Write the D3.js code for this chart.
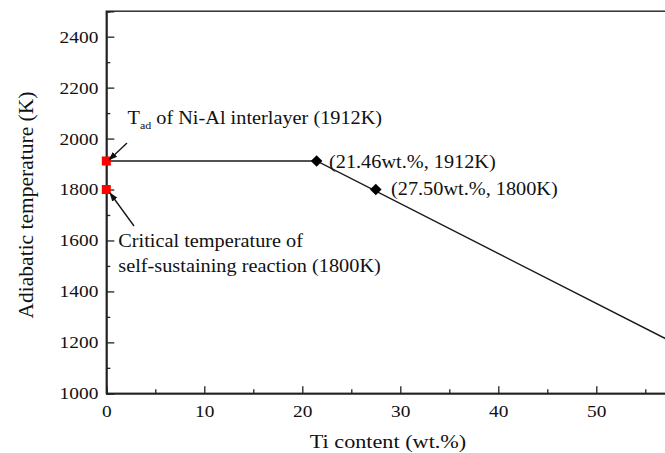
<!DOCTYPE html>
<html>
<head>
<meta charset="utf-8">
<script src="https://cdn.jsdelivr.net/npm/d3@7"></script>
<style>
  body { margin: 0; background: #fff; }
  svg { display: block; }
  svg text { font-family: "Liberation Serif", "Times New Roman", serif; }
</style>
</head>
<body>
<svg id="viz" width="665" height="453"></svg>
<script>
// Ti content (wt.%) vs adiabatic temperature (K)
const curve_x = [0, 21.46, 60];
const curve_t = [1912, 1912, 1157];

const key_x = [21.46, 27.50];
const key_t = [1912, 1800];
const key_labels = ["(21.46wt.%, 1912K)", "(27.50wt.%, 1800K)"];

const ref_t = [1912, 1800];   // red squares at x = 0

const x_major = [0, 10, 20, 30, 40, 50];
const x_minor = [5, 15, 25, 35, 45, 55];
const y_major = [1000, 1200, 1400, 1600, 1800, 2000, 2200, 2400];
const y_minor = [1100, 1300, 1500, 1700, 1900, 2100, 2300, 2500];

const stretch = 1.14;  // the source picture is a bit wide

let svg = d3.select("#viz");

let x = d3.scaleLinear().domain([0, 60]).range([106.3, 694.3]);
let y = d3.scaleLinear().domain([1000, 2500]).range([393.3, 11.2]);

function addText(px, py, str, size) {
    return svg.append("text")
        .attr("transform", "translate(" + px + "," + py + ") scale(" + stretch + ",1)")
        .attr("font-size", size)
        .attr("fill", "#111")
        .text(str);
}

// frame (top line, right side is cut off by the picture)
svg.append("rect")
    .attr("x", x(0)).attr("y", y(2500))
    .attr("width", x(60) - x(0)).attr("height", y(1000) - y(2500))
    .attr("fill", "none").attr("stroke", "#222").attr("stroke-width", 1.4);

// axes, ticks pointing inwards
svg.append("g").attr("transform", "translate(0," + y(1000) + ")")
    .call(d3.axisBottom(x).tickValues(x_major).tickSize(-7).tickPadding(12).tickFormat(d3.format("d")));
svg.append("g").attr("transform", "translate(0," + y(1000) + ")")
    .call(d3.axisBottom(x).tickValues(x_minor).tickSize(-4).tickFormat(""));

svg.append("g").attr("transform", "translate(" + x(0) + ",0)")
    .call(d3.axisLeft(y).tickValues(y_major).tickSize(-8).tickPadding(7).tickFormat(d3.format("d")));
svg.append("g").attr("transform", "translate(" + x(0) + ",0)")
    .call(d3.axisLeft(y).tickValues(y_minor).tickSize(-4).tickFormat(""));

svg.selectAll("g").attr("font-family", null).attr("font-size", null);
svg.selectAll(".domain").attr("stroke", "#222").attr("stroke-width", 1.5);
svg.selectAll(".tick line").attr("stroke", "#222").attr("stroke-width", 1.3);
svg.selectAll(".tick text")
    .attr("font-size", 17)
    .attr("fill", "#111")
    .attr("transform", "scale(" + stretch + ",1)");

// axis titles
addText(388, 448, "Ti content (wt.%)", 19.5).attr("text-anchor", "middle");
svg.append("text")
    .attr("transform", "translate(33,205) rotate(-90)")
    .attr("text-anchor", "middle")
    .attr("font-size", 21.5)
    .attr("fill", "#111")
    .text("Adiabatic temperature (K)");

// the curve
let line = d3.line().x(d => x(d[0])).y(d => y(d[1]));
svg.append("path")
    .datum(d3.zip(curve_x, curve_t))
    .attr("d", line)
    .attr("fill", "none")
    .attr("stroke", "#1a1a1a")
    .attr("stroke-width", 1.4);

// diamonds
svg.selectAll(".key_pt")
    .data(d3.zip(key_x, key_t))
    .join("path")
    .classed("key_pt", true)
    .attr("d", d3.symbol(d3.symbolDiamond2, 85))
    .attr("transform", d => "translate(" + x(d[0]) + "," + y(d[1]) + ")")
    .attr("fill", "#000");

// red squares
svg.selectAll(".ref_pt")
    .data(ref_t)
    .join("rect")
    .classed("ref_pt", true)
    .attr("x", d => x(0) - 4.5)
    .attr("y", d => y(d) - 4.5)
    .attr("width", 9)
    .attr("height", 9)
    .attr("fill", "#ff0000");

// point labels
addText(329, 168, key_labels[0], 17.8);
addText(391, 195, key_labels[1], 17.8);

// annotation: Tad of Ni-Al interlayer
let t1 = addText(127.5, 123.5, "T", 17.8);
t1.append("tspan").attr("font-size", 10.5).attr("dy", 5).text("ad");
t1.append("tspan").attr("dy", -5).text(" of Ni-Al interlayer (1912K)");

addText(118.3, 246.5, "Critical temperature of", 17.8);
addText(118.3, 271.5, "self-sustaining reaction (1800K)", 17.8);

// arrows
svg.append("defs").append("marker")
    .attr("id", "head")
    .attr("viewBox", "0 0 10 10")
    .attr("refX", 9).attr("refY", 5)
    .attr("markerWidth", 7).attr("markerHeight", 7)
    .attr("orient", "auto")
    .append("path").attr("d", "M0,1.5L10,5L0,8.5Z").attr("fill", "#111");

svg.append("line")
    .attr("x1", 127).attr("y1", 143).attr("x2", 109).attr("y2", 160)
    .attr("stroke", "#111").attr("stroke-width", 1.3)
    .attr("marker-end", "url(#head)");
svg.append("line")
    .attr("x1", 134).attr("y1", 226).attr("x2", 110).attr("y2", 193)
    .attr("stroke", "#111").attr("stroke-width", 1.3)
    .attr("marker-end", "url(#head)");
</script>
</body>
</html>
